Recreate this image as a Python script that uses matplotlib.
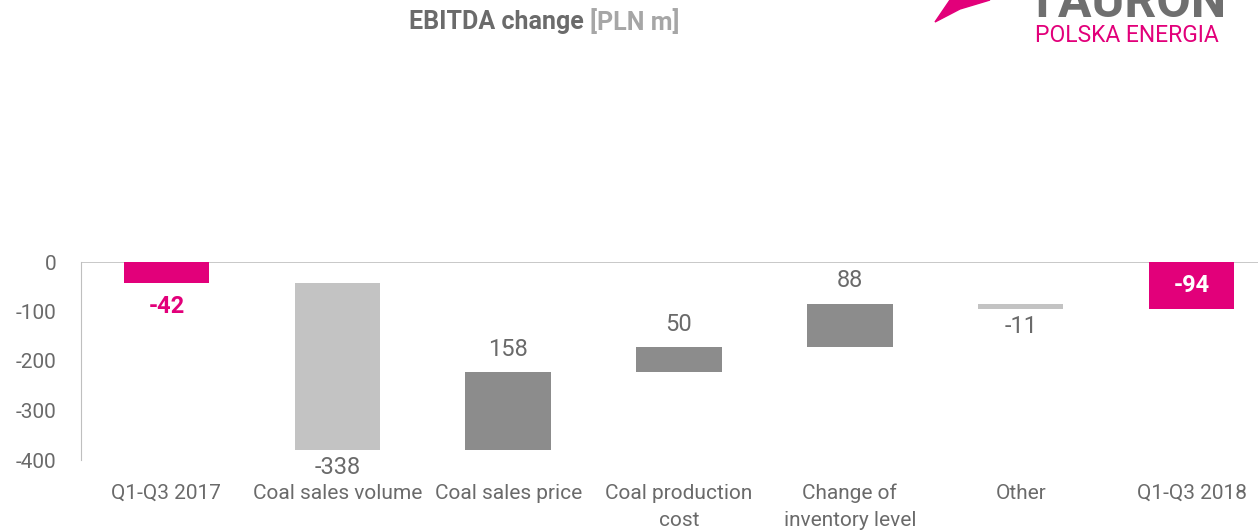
import numpy as np
from matplotlib import pyplot as plt
from matplotlib.patches import Polygon

# categories and values (PLN m)
categories = ['Q1-Q3 2017', 'Coal sales volume', 'Coal sales price',
              'Coal production\ncost', 'Change of\ninventory level', 'Other',
              'Q1-Q3 2018']
start_value = -42
deltas = [-338, 158, 50, 88, -11]
end_value = -94
y_ticks = [0, -100, -200, -300, -400]

MAGENTA = '#E2007A'
LIGHT = '#C3C3C3'
DARK = '#8C8C8C'
TEXT = '#6A6A6A'

plt.rcParams['font.family'] = ['Roboto', 'DejaVu Sans']

fig = plt.figure(figsize=(12.58, 5.30), dpi=100)
ax = fig.add_axes([81 / 1258, 1 - 460 / 530, 1196 / 1258, 198 / 530])

x = np.arange(len(categories))
width = 0.5

# first total bar
ax.bar(x[0], start_value, width, color=MAGENTA)
ax.annotate(str(start_value), (x[0], start_value), xytext=(0, -9),
            textcoords='offset points', ha='center', va='top',
            color=MAGENTA, fontsize=17, fontweight='bold')

# floating bars
level = start_value
for i, d in enumerate(deltas):
    xi = x[i + 1]
    col = DARK if d > 0 else LIGHT
    ax.bar(xi, d, width, bottom=level, color=col)
    new = level + d
    if d > 0:
        ax.annotate(str(d), (xi, new), xytext=(0, 8), textcoords='offset points',
                    ha='center', va='bottom', color=TEXT, fontsize=17)
    else:
        ax.annotate(str(d), (xi, new), xytext=(0, -4), textcoords='offset points',
                    ha='center', va='top', color=TEXT, fontsize=17)
    level = new

# final total bar
ax.bar(x[-1], end_value, width, color=MAGENTA)
ax.text(x[-1], end_value / 2, str(end_value), ha='center', va='center',
        color='white', fontsize=17, fontweight='bold')

ax.set_xlim(-0.5, len(categories) - 0.5)
ax.set_ylim(-400, 0)
ax.set_yticks(y_ticks)
ax.set_yticklabels([str(t) for t in y_ticks])
ax.set_xticks(x)
ax.set_xticklabels(categories, va='top', linespacing=1.55)
ax.tick_params(axis='both', length=0, colors=TEXT, labelsize=15)
ax.tick_params(axis='x', pad=17)
ax.tick_params(axis='y', pad=18)

for s in ['top', 'right', 'bottom']:
    ax.spines[s].set_visible(False)
ax.spines['left'].set_color('#BFBFBF')
ax.axhline(0, color='#BFBFBF', lw=1.2, zorder=0)

# title
fig.text(590 / 1258, 1 - 22 / 530, 'EBITDA change ', ha='right', va='center',
         color='#6B6B6B', fontsize=18, fontweight='bold')
fig.text(590 / 1258, 1 - 22 / 530, '[PLN m]', ha='left', va='center',
         color='#A6A6A6', fontsize=18, fontweight='bold')

# logo
fig.text(1127 / 1258, 1 - 36 / 530, 'POLSKA ENERGIA', ha='center', va='center',
         color=MAGENTA, fontsize=16.5)
fig.text(1127 / 1258, 1 - 17 / 530, 'TAURON', ha='center', va='baseline',
         color='#6F6F6F', fontsize=36, fontweight='bold')
swoosh = Polygon([(935 / 1258, 1 - 22 / 530), (950 / 1258, 1.0),
                  (990 / 1258, 1.0), (960 / 1258, 1 - 9 / 530)],
                 closed=True, transform=fig.transFigure, color=MAGENTA)
fig.patches.append(swoosh)

fig.savefig('out.png', dpi=100)
